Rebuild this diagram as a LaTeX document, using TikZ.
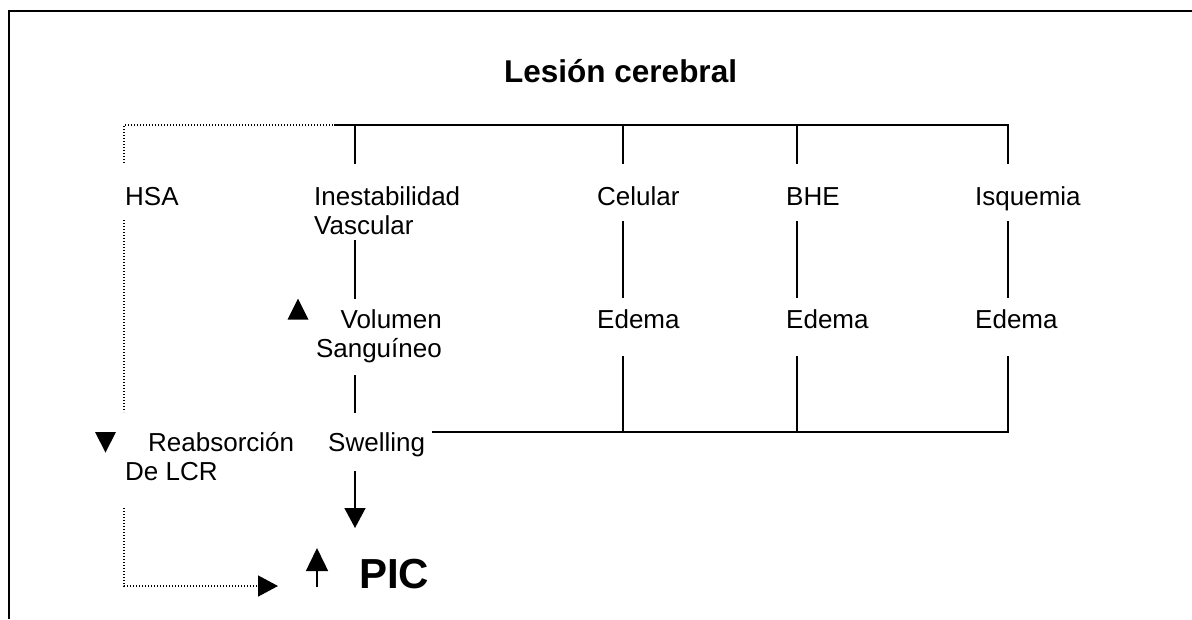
\documentclass[tikz,border=0pt]{standalone}
\usepackage{fontspec}
\setmainfont{Liberation Sans}
\usetikzlibrary{arrows.meta}
\tikzset{
  lbl/.style={anchor=base west, inner sep=0pt, font=\fontsize{26}{28.5}\selectfont},
  ttl/.style={anchor=base west, inner sep=0pt, font=\fontsize{31.5}{34}\selectfont\bfseries},
  big/.style={anchor=base west, inner sep=0pt, font=\fontsize{42}{44}\selectfont\bfseries},
  ln/.style={line width=1.5pt},
  dot/.style={line width=1.5pt, dash pattern=on 1.3pt off 1.7pt},
  tip/.style={-{Triangle[width=21pt,length=20pt]}},
  frame/.style={line width=2pt}
}
\begin{document}
\begin{tikzpicture}[x=1pt,y=-1pt]
\useasboundingbox (0,0) rectangle (1192,619);
% frame (left and top edges only)
\coordinate (fb) at (9,619);
\coordinate (fc) at (9,10.5);
\coordinate (fr) at (1192,10.5);
\draw[frame] (fb) -- (fc) -- (fr);

% texts (multi-line nodes are placed by the baseline of their last line)
\node[ttl] (title) at (504,82) {Lesión cerebral};
\node[lbl] (hsa) at (125,205) {HSA};
\node[lbl, align=left] (inest) at (314,234) {Inestabilidad\\Vascular};
\node[lbl] (cel) at (597,205) {Celular};
\node[lbl] (bhe) at (786,205) {BHE};
\node[lbl] (isq) at (975,205) {Isquemia};
\node[lbl] (ed1) at (597,328) {Edema};
\node[lbl] (ed2) at (786,328) {Edema};
\node[lbl] (ed3) at (975,328) {Edema};
\node[lbl, align=right, anchor=base east] (vol) at (442,357) {Volumen\\Sanguíneo};
\node[lbl, align=left] (reab) at (125,480) {\hspace*{23pt}Reabsorción\\De LCR};
\node[lbl] (swel) at (328,451) {Swelling};
\node[big] (pic) at (359,588) {PIC};

% up / down symbols
\fill (298,298.5) -- (287.5,319.5) -- (308.5,319.5) -- cycle;
\fill (95,432) -- (116,432) -- (105.5,452.5) -- cycle;

% coordinates
\coordinate (hsaT) at (124,163);
\coordinate (corner) at (124,125);
\coordinate (topS) at (334,125);
\coordinate (t1) at (355,125);
\coordinate (t2) at (623,125);
\coordinate (t3) at (797,125);
\coordinate (t4) at (1008,125);
\coordinate (t1b) at (355,164);
\coordinate (t2b) at (623,164);
\coordinate (t3b) at (797,164);
\coordinate (t4b) at (1008,164);
\coordinate (m1a) at (355,240);
\coordinate (m1b) at (355,299);
\coordinate (m2a) at (623,221);
\coordinate (m2b) at (623,298);
\coordinate (m3a) at (797,221);
\coordinate (m3b) at (797,298);
\coordinate (m4a) at (1008,221);
\coordinate (m4b) at (1008,298);
\coordinate (l1a) at (355,375);
\coordinate (l1b) at (355,413);
\coordinate (l2a) at (623,356);
\coordinate (l3a) at (797,356);
\coordinate (l4a) at (1008,356);
\coordinate (b0) at (432,432);
\coordinate (b2) at (623,432);
\coordinate (b3) at (797,432);
\coordinate (b4) at (1008,432);
\coordinate (hsaM1) at (124,220);
\coordinate (hsaM2) at (124,412);
\coordinate (sw1) at (355,471);
\coordinate (sw2) at (355,528);
\coordinate (rd1) at (124,508);
\coordinate (rd2) at (124,586);
\coordinate (rd3) at (278,586);
\coordinate (up1) at (317,587);
\coordinate (up2) at (317,548);

% top bracket
\draw[dot] (hsaT) -- (corner) -- (topS);
\draw[ln] (topS) -- (t4) -- (t4b);
\draw[ln] (t1) -- (t1b);
\draw[ln] (t2) -- (t2b);
\draw[ln] (t3) -- (t3b);
% middle segments
\draw[ln] (m1a) -- (m1b);
\draw[ln] (m2a) -- (m2b);
\draw[ln] (m3a) -- (m3b);
\draw[ln] (m4a) -- (m4b);
\draw[ln] (l1a) -- (l1b);
\draw[dot] (hsaM1) -- (hsaM2);
% lower bracket
\draw[ln] (l2a) -- (b2);
\draw[ln] (l3a) -- (b3);
\draw[ln] (l4a) -- (b4) -- (b0);
% arrows to PIC
\draw[ln, tip] (sw1) -- (sw2);
\draw[dot, tip] (rd1) -- (rd2) -- (rd3);
\draw[ln, -{Triangle[width=22pt,length=23pt]}] (up1) -- (up2);
\end{tikzpicture}
\end{document}
